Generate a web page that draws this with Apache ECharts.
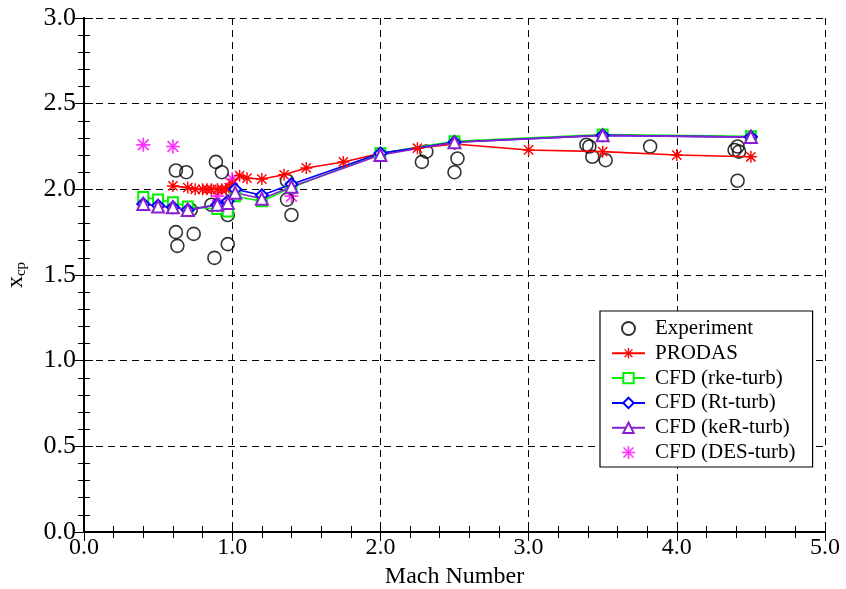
<!DOCTYPE html>
<html>
<head>
<meta charset="utf-8">
<script src="https://cdn.jsdelivr.net/npm/echarts@6/dist/echarts.min.js"></script>
<style>
  html, body { margin: 0; padding: 0; background: #fff; }
  #chart { width: 846px; height: 589px; }
</style>
</head>
<body>
<div id="chart"></div>
<script>
// experiment (scatter)
const expMach = [0.62, 0.69, 0.89, 0.93, 0.62, 0.63, 0.74, 0.88, 0.97, 0.97, 0.86, 0.72,
  1.37, 1.37, 1.40, 2.28, 2.31, 2.50, 2.52, 3.39, 3.41, 3.43, 3.52, 3.82, 4.39, 4.41, 4.42, 4.41];
const expXcp = [2.11, 2.10, 2.16, 2.10, 1.75, 1.67, 1.74, 1.60, 1.68, 1.85, 1.91, 1.88,
  2.05, 1.94, 1.85, 2.16, 2.22, 2.10, 2.18, 2.26, 2.25, 2.19, 2.17, 2.25, 2.23, 2.25, 2.22, 2.05];

// PRODAS
const prodasMach = [0.6, 0.7, 0.75, 0.8, 0.83, 0.86, 0.9, 0.93, 0.96, 0.98, 1.0, 1.05, 1.1, 1.2, 1.35, 1.5, 1.75, 2.0, 2.25, 2.5, 3.0, 3.5, 4.0, 4.5];
const prodasXcp = [2.02, 2.01, 2.0, 2.0, 2.0, 2.0, 2.0, 2.0, 2.0, 2.01, 2.03, 2.08, 2.065, 2.06, 2.085, 2.125, 2.16, 2.21, 2.24, 2.265, 2.23, 2.22, 2.20, 2.19];

// CFD runs share the Mach points
const cfdMach = [0.4, 0.5, 0.6, 0.7, 0.9, 0.97, 1.02, 1.2, 1.4, 2.0, 2.5, 3.5, 4.5];
const rkeXcp = [1.955, 1.94, 1.925, 1.90, 1.885, 1.87, 1.96, 1.93, 2.01, 2.21, 2.28, 2.32, 2.31];
const rtXcp = [1.915, 1.905, 1.895, 1.88, 1.91, 1.93, 2.0, 1.965, 2.03, 2.21, 2.275, 2.315, 2.305];
const kerXcp = [1.915, 1.90, 1.895, 1.88, 1.91, 1.92, 1.98, 1.945, 2.015, 2.20, 2.275, 2.315, 2.305];

// DES (scatter)
const desMach = [0.4, 0.6, 0.9, 1.0, 1.4, 2.5, 4.5];
const desXcp = [2.26, 2.25, 1.96, 2.06, 1.96, 2.27, 2.31];

const xTicks = ['0.0', '1.0', '2.0', '3.0', '4.0', '5.0'];
const yTicks = ['0.0', '0.5', '1.0', '1.5', '2.0', '2.5', '3.0'];

const zip = (a, b) => a.map((v, i) => [v, b[i]]);

const star = 'path://M8.8 0H11.2V20H8.8Z M0 8.8H20V11.2H0Z M1.5 3.2L3.2 1.5L18.5 16.8L16.8 18.5Z M16.8 1.5L18.5 3.2L3.2 18.5L1.5 16.8Z';
const font = 'Liberation Serif';

const chart = echarts.init(document.getElementById('chart'));

// tick-only axis (no labels); used for minor ticks and the top/right frame
function tickAxis(min, max, step, pos, len) {
  return {
    type: 'value', min: min, max: max, interval: step, position: pos,
    axisLine: { show: true, lineStyle: { color: '#000', width: 1.5 } },
    axisTick: { inside: true, length: len, lineStyle: { color: '#000' } },
    axisLabel: { show: false },
    splitLine: { show: false }
  };
}

chart.setOption({
  backgroundColor: '#fff',
  animation: false,
  grid: { left: 84, right: 21, top: 18, bottom: 57, outerBoundsMode: 'none', containLabel: false },
  xAxis: [
    {
      type: 'value', min: 0, max: 5, interval: 1,
      name: 'Mach Number', nameLocation: 'middle', nameGap: 33,
      nameTextStyle: { fontFamily: font, fontSize: 24, color: '#000' },
      axisLine: { lineStyle: { color: '#000', width: 1.5 } },
      axisTick: { inside: true, length: 9, lineStyle: { color: '#000' } },
      axisLabel: { fontFamily: font, fontSize: 24, color: '#000', margin: 4,
        formatter: v => xTicks[Math.round(v)] },
      splitLine: { show: true, lineStyle: { color: '#000', type: [7, 5] } }
    },
    tickAxis(0, 5, 0.2, 'bottom', 6),
    tickAxis(0, 5, 0.2, 'top', 6),
    tickAxis(0, 5, 1, 'top', 9)
  ],
  yAxis: [
    {
      type: 'value', min: 0, max: 3, interval: 0.5,
      name: '{x|x}{s|cp}', nameLocation: 'middle', nameGap: 55, nameRotate: 90,
      nameTextStyle: {
        rich: {
          x: { fontFamily: font, fontSize: 24, color: '#000' },
          s: { fontFamily: font, fontSize: 15, color: '#000', padding: [12, 0, 0, 0] }
        }
      },
      axisLine: { lineStyle: { color: '#000', width: 1.5 } },
      axisTick: { inside: true, length: 9, lineStyle: { color: '#000' } },
      axisLabel: { fontFamily: font, fontSize: 26, color: '#000', margin: 8,
        formatter: v => yTicks[Math.round(v * 2)] },
      splitLine: { show: true, lineStyle: { color: '#000', type: [7, 5] } }
    },
    tickAxis(0, 3, 0.1, 'left', 6),
    tickAxis(0, 3, 0.1, 'right', 6),
    tickAxis(0, 3, 0.5, 'right', 9)
  ],
  legend: {
    orient: 'vertical', left: 600, top: 311,
    padding: [7, 17, 4, 11],
    borderColor: '#000', borderWidth: 1.2, backgroundColor: '#fff',
    itemWidth: 33, itemHeight: 13, itemGap: 3.8,
    textStyle: { fontFamily: font, fontSize: 21, color: '#000', lineHeight: 20, padding: [0, 0, 0, 5] },
    data: ['Experiment', 'PRODAS', 'CFD (rke-turb)', 'CFD (Rt-turb)', 'CFD (keR-turb)', 'CFD (DES-turb)']
  },
  series: [
    {
      name: 'PRODAS', type: 'line', data: zip(prodasMach, prodasXcp),
      symbol: star, symbolSize: 12, color: '#ff0000',
      lineStyle: { color: '#ff0000', width: 1.6 }, itemStyle: { color: '#ff0000' }
    },
    {
      name: 'CFD (rke-turb)', type: 'line', data: zip(cfdMach, rkeXcp),
      symbol: 'emptyRect', symbolSize: 10, color: '#00f000',
      lineStyle: { color: '#00f000', width: 1.6 }, itemStyle: { color: '#00f000', borderWidth: 1.6 }
    },
    {
      name: 'CFD (Rt-turb)', type: 'line', data: zip(cfdMach, rtXcp),
      symbol: 'emptyDiamond', symbolSize: 12, color: '#0000ff',
      lineStyle: { color: '#0000ff', width: 1.6 }, itemStyle: { color: '#0000ff', borderWidth: 1.6 }
    },
    {
      name: 'CFD (keR-turb)', type: 'line', data: zip(cfdMach, kerXcp),
      symbol: 'emptyTriangle', symbolSize: 12, color: '#8a1fcf',
      lineStyle: { color: '#8a1fcf', width: 1.6 }, itemStyle: { color: '#8a1fcf', borderWidth: 1.6 }
    },
    {
      name: 'CFD (DES-turb)', type: 'scatter', data: zip(desMach, desXcp),
      symbol: star, symbolSize: 14, color: '#ff00ff', itemStyle: { color: '#ff00ff' }
    },
    {
      name: 'Experiment', type: 'scatter', data: zip(expMach, expXcp),
      symbol: 'circle', symbolSize: 13, color: '#000',
      itemStyle: { color: 'rgba(0,0,0,0)', borderColor: '#000', borderWidth: 1.6 }
    }
  ]
});
</script>
</body>
</html>
